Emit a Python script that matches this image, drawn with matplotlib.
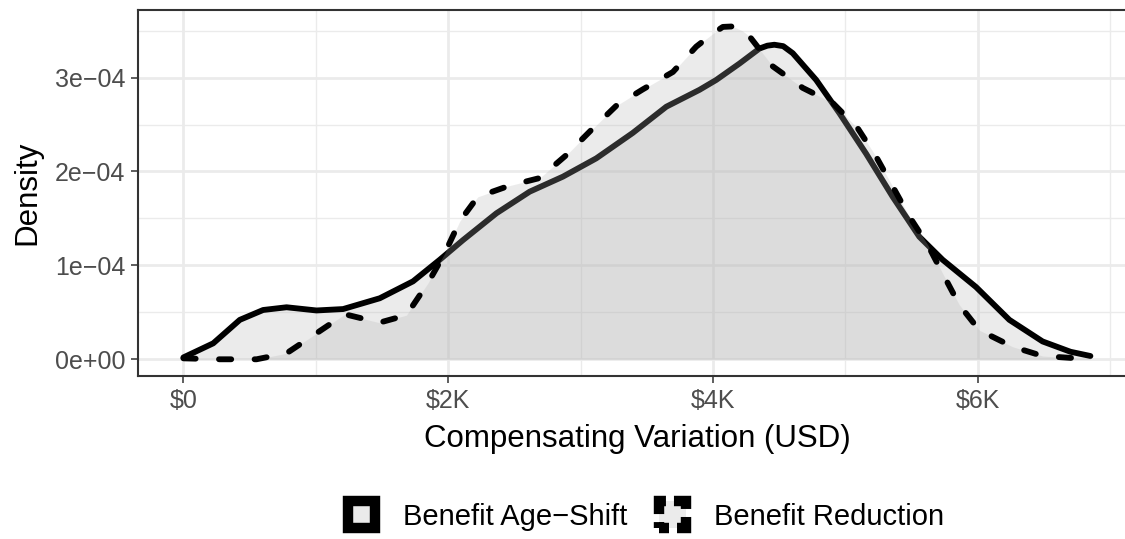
import matplotlib
matplotlib.use("Agg")
import matplotlib.pyplot as plt
from matplotlib.patches import Patch
from matplotlib.ticker import FixedLocator

plt.rcParams['font.family'] = ['Liberation Sans', 'DejaVu Sans']

# ---- data ----
series_names = ["Benefit Age\u2212Shift", "Benefit Reduction"]

age_shift_x = [0, 225, 426, 602, 779, 1005, 1206, 1483, 1734, 1936, 2112, 2364,
               2615, 2866, 3118, 3393, 3647, 3898, 4024, 4200, 4351, 4410, 4463,
               4530, 4602, 4779, 4955, 5156, 5357, 5558, 5734, 5986, 6238, 6489,
               6700, 6850]
age_shift_y = [0.02e-4, 0.17e-4, 0.42e-4, 0.525e-4, 0.554e-4, 0.52e-4, 0.535e-4,
               0.65e-4, 0.83e-4, 1.06e-4, 1.27e-4, 1.555e-4, 1.785e-4, 1.945e-4,
               2.14e-4, 2.41e-4, 2.69e-4, 2.87e-4, 2.975e-4, 3.15e-4, 3.31e-4,
               3.34e-4, 3.35e-4, 3.335e-4, 3.26e-4, 2.975e-4, 2.62e-4, 2.19e-4,
               1.73e-4, 1.305e-4, 1.06e-4, 0.77e-4, 0.42e-4, 0.19e-4, 0.08e-4,
               0.035e-4]

reduction_x = [0, 275, 552, 779, 1005, 1219, 1480, 1684, 1846, 1974, 2087, 2223,
               2464, 2690, 2892, 3093, 3269, 3470, 3697, 3873, 4000, 4074, 4149,
               4220, 4275, 4451, 4678, 4904, 5093, 5231, 5357, 5483, 5621, 5734,
               5860, 6011, 6262, 6489, 6753, 6850]
reduction_y = [0.01e-4, 0.0, 0.0, 0.064e-4, 0.277e-4, 0.48e-4, 0.39e-4, 0.47e-4,
               0.81e-4, 1.13e-4, 1.47e-4, 1.73e-4, 1.85e-4, 1.93e-4, 2.175e-4,
               2.46e-4, 2.70e-4, 2.875e-4, 3.06e-4, 3.33e-4, 3.47e-4, 3.54e-4,
               3.545e-4, 3.50e-4, 3.44e-4, 3.12e-4, 2.89e-4, 2.73e-4, 2.46e-4,
               2.16e-4, 1.84e-4, 1.52e-4, 1.22e-4, 0.915e-4, 0.58e-4, 0.31e-4,
               0.134e-4, 0.035e-4, 0.01e-4, 0.01e-4]

x_ticks = [0, 2000, 4000, 6000]
x_tick_labels = ["\\$0", "\\$2K", "\\$4K", "\\$6K"]
y_ticks = [0, 1e-4, 2e-4, 3e-4]
y_tick_labels = ["0e+00", "1e\u221204", "2e\u221204", "3e\u221204"]
x_minor = [1000, 3000, 5000, 7000]
y_minor = [0.5e-4, 1.5e-4, 2.5e-4, 3.5e-4]

# ---- figure ----
W, H = 1125, 539
fig = plt.figure(figsize=(W / 100, H / 100), dpi=100)
ax = fig.add_axes([138 / W, 1 - 376 / H, (1137 - 138) / W, (376 - 10) / H])

fill_col = '#B3B3B3'
alpha = 0.25
lw = 4.2

ax.fill_between(age_shift_x, age_shift_y, 0, color=fill_col, alpha=alpha, lw=0, zorder=2)
ax.plot(age_shift_x, age_shift_y, color='black', lw=lw, solid_capstyle='round',
        solid_joinstyle='round', zorder=3)
ax.fill_between(reduction_x, reduction_y, 0, color=fill_col, alpha=alpha, lw=0, zorder=4)
ax.plot(reduction_x, reduction_y, color='black', lw=lw, linestyle=(0, (2.1, 4.0)),
        dash_capstyle='round', dash_joinstyle='round', zorder=5)

ax.set_xlim(-343, 7202)
ax.set_ylim(-0.178e-4, 3.72e-4)

ax.xaxis.set_major_locator(FixedLocator(x_ticks))
ax.set_xticklabels(x_tick_labels)
ax.yaxis.set_major_locator(FixedLocator(y_ticks))
ax.set_yticklabels(y_tick_labels)
ax.xaxis.set_minor_locator(FixedLocator(x_minor))
ax.yaxis.set_minor_locator(FixedLocator(y_minor))

ax.grid(which='major', color='#EBEBEB', lw=2.0, zorder=0)
ax.grid(which='minor', color='#EBEBEB', lw=1.0, zorder=0)
ax.set_axisbelow(True)

for s in ax.spines.values():
    s.set_color('#333333')
    s.set_linewidth(1.5)

ax.tick_params(which='major', length=5, width=1.1, color='#333333',
               labelsize=18, labelcolor='#4D4D4D', pad=4)
ax.tick_params(which='minor', length=0)

ax.set_xlabel("Compensating Variation (USD)", fontsize=22.5, color='black', labelpad=8)
ax.set_ylabel("Density", fontsize=22.5, color='black', labelpad=9)

handles = [
    Patch(facecolor=fill_col, edgecolor='black', linewidth=7.5),
    Patch(facecolor=fill_col, edgecolor='black', linewidth=7.5,
          linestyle=(0.96, (1.92, 0.77))),
]
for h in handles:
    h.set_facecolor((0.922, 0.922, 0.922, 1))

fig.legend(handles, series_names, loc='center', bbox_to_anchor=(0.5745, 1 - 516 / H),
           ncol=2, frameon=False, fontsize=21, handlelength=0.92, handleheight=1.05,
           handletextpad=0.95, columnspacing=1.1, borderaxespad=0)

fig.savefig("out.png", dpi=100)
